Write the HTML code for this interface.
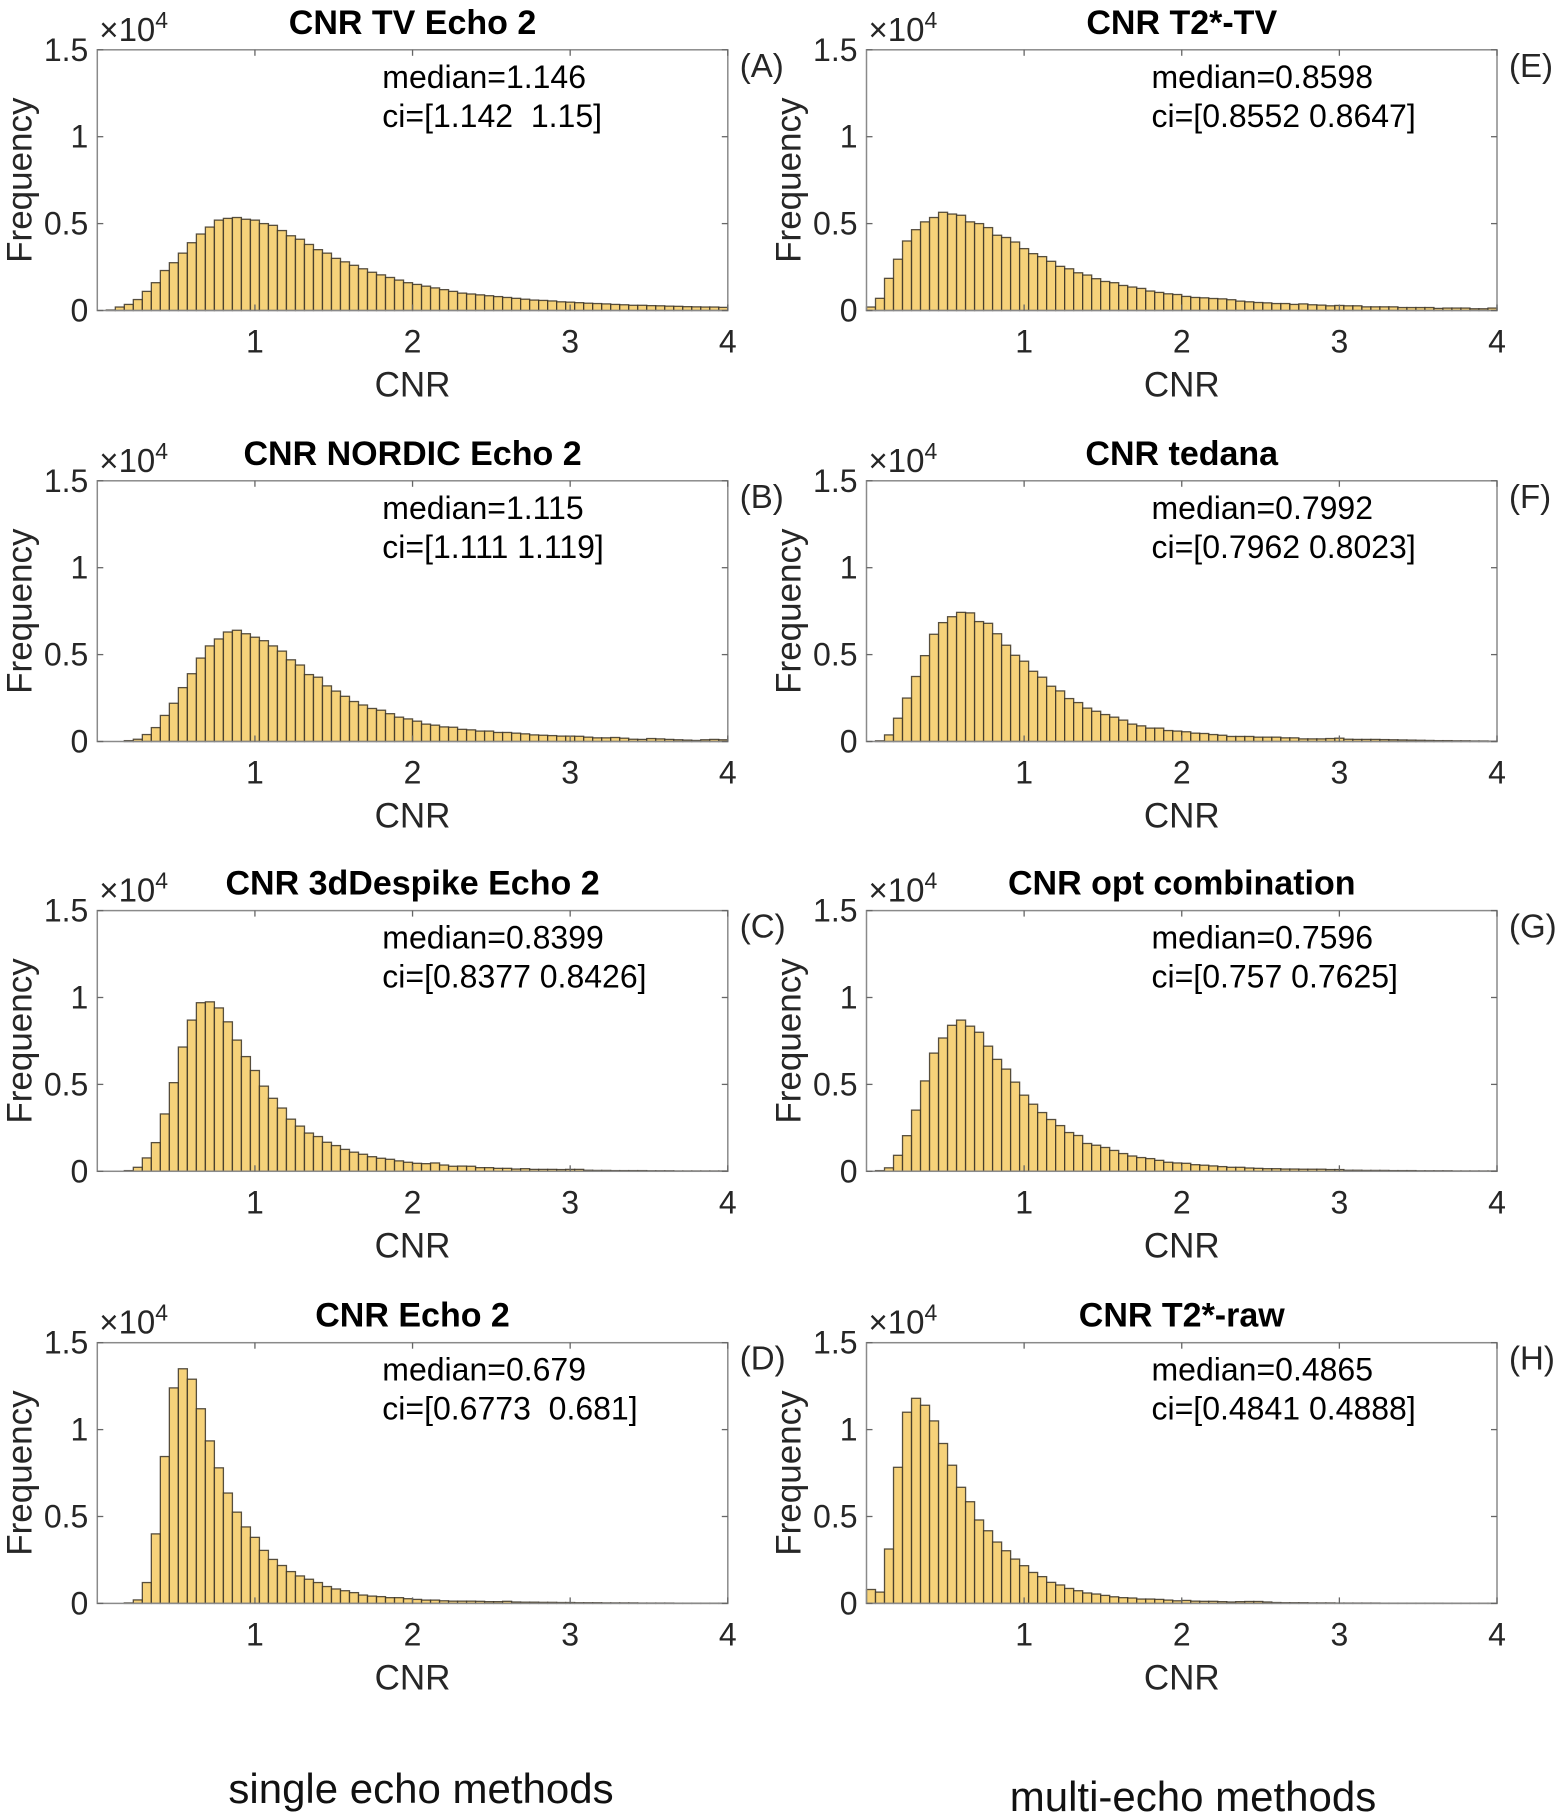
<!DOCTYPE html>
<html><head><meta charset="utf-8">
<style>
html,body{margin:0;padding:0;background:#fff;}
svg{display:block;font-family:"Liberation Sans",Arial,sans-serif;}
</style></head>
<body>
<svg id="fig" width="1564" height="1819" viewBox="0 0 1564 1819" xmlns="http://www.w3.org/2000/svg">
<text x="421" y="1803" font-size="42" text-anchor="middle" fill="#111">single echo methods</text>
<text x="1193" y="1811" font-size="42" text-anchor="middle" fill="#111">multi-echo methods</text>
</svg>
<script>
const binWidth = 4 / 70;
const xTicks = [1, 2, 3, 4];
const yTicks = [0, 0.5, 1, 1.5];
const yTickLabels = ["0", "0.5", "1", "1.5"];
const panelTitles = ["CNR TV Echo 2","CNR NORDIC Echo 2","CNR 3dDespike Echo 2","CNR Echo 2","CNR T2*-TV","CNR tedana","CNR opt combination","CNR T2*-raw"];
const panelLetters = ["(A)","(B)","(C)","(D)","(E)","(F)","(G)","(H)"];
const medianTexts = ["median=1.146","median=1.115","median=0.8399","median=0.679","median=0.8598","median=0.7992","median=0.7596","median=0.4865"];
const ciTexts = ["ci=[1.142  1.15]","ci=[1.111 1.119]","ci=[0.8377 0.8426]","ci=[0.6773  0.681]","ci=[0.8552 0.8647]","ci=[0.7962 0.8023]","ci=[0.757 0.7625]","ci=[0.4841 0.4888]"];
const countsA = [0,0.003,0.02,0.035,0.063,0.11,0.16,0.23,0.275,0.33,0.39,0.44,0.48,0.52,0.53,0.535,0.525,0.52,0.50,0.49,0.46,0.43,0.41,0.38,0.35,0.33,0.30,0.28,0.26,0.24,0.22,0.205,0.19,0.175,0.16,0.15,0.14,0.13,0.12,0.11,0.10,0.095,0.09,0.085,0.08,0.075,0.07,0.065,0.06,0.058,0.055,0.05,0.048,0.045,0.042,0.04,0.038,0.035,0.033,0.03,0.03,0.028,0.027,0.025,0.024,0.022,0.021,0.02,0.02,0.018];
const countsB = [0,0,0,0.005,0.013,0.04,0.08,0.15,0.22,0.31,0.39,0.48,0.55,0.59,0.63,0.64,0.62,0.60,0.58,0.55,0.52,0.47,0.44,0.385,0.37,0.32,0.29,0.26,0.23,0.21,0.19,0.18,0.16,0.14,0.13,0.117,0.10,0.094,0.084,0.082,0.07,0.067,0.06,0.06,0.052,0.052,0.048,0.044,0.038,0.036,0.034,0.031,0.031,0.03,0.025,0.021,0.021,0.023,0.019,0.013,0.012,0.017,0.015,0.012,0.01,0.008,0.006,0.01,0.012,0.01];
const countsC = [0,0,0,0.004,0.023,0.077,0.165,0.33,0.51,0.715,0.87,0.97,0.975,0.94,0.86,0.755,0.66,0.58,0.49,0.42,0.364,0.30,0.26,0.22,0.20,0.167,0.148,0.126,0.11,0.098,0.084,0.075,0.069,0.06,0.052,0.046,0.044,0.048,0.036,0.029,0.03,0.029,0.021,0.021,0.017,0.017,0.013,0.015,0.011,0.011,0.011,0.01,0.011,0.011,0.006,0.005,0.005,0.004,0.004,0.004,0.004,0.003,0.003,0.003,0.002,0.002,0.002,0.002,0.002,0.002];
const countsD = [0,0,0,0.003,0.02,0.12,0.40,0.845,1.24,1.35,1.29,1.12,0.935,0.78,0.635,0.525,0.44,0.38,0.305,0.253,0.218,0.183,0.158,0.139,0.12,0.097,0.083,0.073,0.062,0.048,0.042,0.039,0.033,0.033,0.027,0.023,0.019,0.019,0.015,0.013,0.013,0.013,0.012,0.01,0.01,0.012,0.008,0.007,0.007,0.006,0.006,0.005,0.005,0.004,0.004,0.004,0.003,0.003,0.003,0.003,0.002,0.002,0.002,0.002,0.001,0.001,0.001,0.001,0.001,0.001];
const countsE = [0.02,0.07,0.185,0.295,0.40,0.465,0.51,0.535,0.565,0.555,0.548,0.51,0.50,0.477,0.433,0.42,0.394,0.356,0.327,0.31,0.283,0.254,0.24,0.217,0.204,0.183,0.167,0.16,0.144,0.135,0.127,0.112,0.104,0.096,0.092,0.081,0.075,0.073,0.069,0.067,0.062,0.054,0.05,0.046,0.044,0.04,0.04,0.035,0.038,0.033,0.031,0.027,0.029,0.027,0.027,0.021,0.021,0.021,0.021,0.017,0.017,0.017,0.017,0.012,0.014,0.014,0.014,0.01,0.01,0.014];
const countsF = [0,0.004,0.038,0.134,0.25,0.374,0.494,0.617,0.684,0.718,0.743,0.74,0.69,0.68,0.62,0.554,0.496,0.462,0.404,0.37,0.318,0.291,0.247,0.224,0.192,0.174,0.155,0.14,0.123,0.10,0.09,0.077,0.077,0.063,0.06,0.056,0.048,0.046,0.04,0.036,0.029,0.029,0.029,0.025,0.025,0.025,0.021,0.021,0.015,0.015,0.015,0.017,0.019,0.013,0.012,0.012,0.012,0.011,0.01,0.009,0.008,0.007,0.006,0.005,0.005,0.004,0.004,0.003,0.003,0.002];
const countsG = [0,0.004,0.02,0.092,0.205,0.352,0.52,0.68,0.767,0.84,0.87,0.835,0.80,0.72,0.644,0.588,0.513,0.438,0.386,0.338,0.298,0.263,0.223,0.206,0.16,0.15,0.137,0.12,0.102,0.088,0.079,0.073,0.063,0.052,0.048,0.046,0.038,0.035,0.031,0.027,0.023,0.023,0.019,0.017,0.015,0.015,0.013,0.013,0.012,0.012,0.012,0.01,0.01,0.006,0.006,0.005,0.005,0.005,0.004,0.004,0.004,0.003,0.003,0.003,0.003,0.002,0.002,0.002,0.002,0.002];
const countsH = [0.08,0.065,0.313,0.783,1.10,1.18,1.14,1.05,0.92,0.795,0.668,0.585,0.48,0.418,0.353,0.303,0.255,0.217,0.178,0.154,0.121,0.106,0.086,0.073,0.06,0.054,0.046,0.038,0.033,0.031,0.025,0.025,0.023,0.019,0.015,0.017,0.013,0.012,0.012,0.01,0.008,0.01,0.011,0.011,0.008,0.005,0.004,0.004,0.004,0.003,0.003,0.003,0.002,0.002,0.002,0.002,0.002,0.001,0.001,0.001,0.001,0.001,0.001,0.001,0.0005,0.0005,0.0005,0.0005,0.0005,0.0005];
const allCounts = [countsA,countsB,countsC,countsD,countsE,countsF,countsG,countsH];

const NS = "http://www.w3.org/2000/svg";
const svg = document.getElementById('fig');
const colLeft = [97.3, 866.5];
const plotW = 630.5;
const rowTop = [49.8, 480.8, 910.6, 1342.7];
const plotH = 260.7;

function mk(tag, attrs, parent) {
  const e = document.createElementNS(NS, tag);
  for (const k in attrs) e.setAttribute(k, attrs[k]);
  (parent || svg).appendChild(e);
  return e;
}

for (let p = 0; p < 8; p++) {
  const col = p < 4 ? 0 : 1;
  const row = p % 4;
  const L = colLeft[col], T = rowTop[row], B = T + plotH, R = L + plotW;
  const xs = v => L + v / 4 * plotW;
  const ys = v => B - v / 1.5 * plotH;
  const g = mk('g', {});
  
  

  const bg = mk('rect', {x: L, y: T, width: plotW, height: plotH, fill: '#fff'}, g);
  
  

  const counts = allCounts[p];
  for (let i = 0; i < counts.length; i++) {
    const v = counts[i];
    if (v <= 0) continue;
    const x0 = xs(i * binWidth), x1 = xs((i + 1) * binWidth);
    const y = ys(v);
    const bar = mk('rect', {x: x0, y: y, width: x1 - x0, height: B - y, fill: '#f6d27a', stroke: '#3a3226', 'stroke-width': 1.3, 'stroke-opacity': 0.85}, g);
    
    
  }

  const box = mk('rect', {x: L, y: T, width: plotW, height: plotH, fill: 'none', stroke: '#8a8a8a', 'stroke-width': 1.5}, g);
  
  

  for (const t of xTicks) {
    const x = xs(t);
    mk('line', {x1: x, y1: B, x2: x, y2: B - 6, stroke: '#666', 'stroke-width': 1.3}, g);
    mk('line', {x1: x, y1: T, x2: x, y2: T + 6, stroke: '#666', 'stroke-width': 1.3}, g);
    const tl = mk('text', {x: x, y: B + 42, 'font-size': 32, 'text-anchor': 'middle', fill: '#262626'}, g);
    tl.textContent = String(t);
    
    
  }
  yTicks.forEach((t, k) => {
    const y = ys(t);
    mk('line', {x1: L, y1: y, x2: L + 6, y2: y, stroke: '#666', 'stroke-width': 1.3}, g);
    mk('line', {x1: R, y1: y, x2: R - 6, y2: y, stroke: '#666', 'stroke-width': 1.3}, g);
    const tl = mk('text', {x: L - 9, y: y + 11, 'font-size': 32, 'text-anchor': 'end', fill: '#262626'}, g);
    tl.textContent = yTickLabels[k];
    
    
  });

  const ex = mk('text', {x: L + 2, y: T - 9, 'font-size': 33, fill: '#262626'}, g);
  ex.innerHTML = '\u00d710<tspan dy="-13" font-size="23">4</tspan>';
  
  

  const title = mk('text', {x: (L + R) / 2, y: T - 16, 'font-size': 34, 'font-weight': 'bold', 'text-anchor': 'middle', fill: '#000'}, g);
  title.textContent = panelTitles[p];
  
  

  const yl = mk('text', {x: 0, y: 0, 'font-size': 35, 'text-anchor': 'middle', fill: '#262626', transform: 'translate(' + (L - 66) + ',' + ((T + B) / 2) + ') rotate(-90)'}, g);
  yl.textContent = 'Frequency';
  
  

  const xl = mk('text', {x: (L + R) / 2, y: B + 86, 'font-size': 35, 'text-anchor': 'middle', fill: '#262626'}, g);
  xl.textContent = 'CNR';
  
  

  const md = mk('text', {x: L + 285, y: T + 38, 'font-size': 32, fill: '#000'}, g);
  md.textContent = medianTexts[p];
  
  
  const ci = mk('text', {x: L + 285, y: T + 77, 'font-size': 32, fill: '#000'}, g);
  ci.setAttribute('style', 'white-space:pre');
  ci.textContent = ciTexts[p];
  
  

  const lt = mk('text', {x: R + 12, y: T + 27, 'font-size': 33, fill: '#262626'}, g);
  lt.textContent = panelLetters[p];
  
  
}
</script>
</body></html>
